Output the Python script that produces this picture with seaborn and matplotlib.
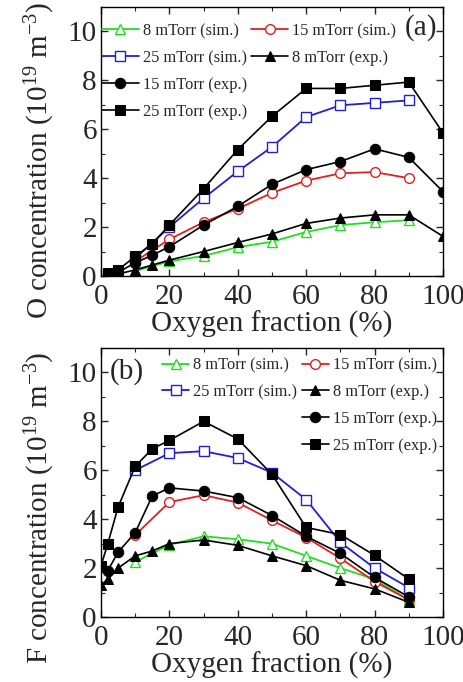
import numpy as np
import pandas as pd
import matplotlib
matplotlib.use("Agg")
import matplotlib.pyplot as plt
from matplotlib.lines import Line2D
from matplotlib.ticker import MultipleLocator
import seaborn as sns

sns.set_theme(style="ticks")
plt.rcParams['font.family'] = 'serif'
plt.rcParams['font.serif'] = ['Liberation Serif', 'DejaVu Serif']
plt.rcParams['mathtext.fontset'] = 'custom'
plt.rcParams['mathtext.rm'] = 'Liberation Serif'
plt.rcParams['mathtext.it'] = 'Liberation Serif:italic'

# ---------------- Panel (a): O concentration ----------------
a_sim_x = [10, 20, 30, 40, 50, 60, 70, 80, 90]
a_sim_8 = [0.2, 0.6, 0.82, 1.18, 1.4, 1.8, 2.08, 2.2, 2.28]
a_sim_15 = [0.6, 1.5, 2.2, 2.75, 3.4, 3.9, 4.2, 4.25, 4.0]
a_sim_25 = [0.72, 2.0, 3.18, 4.28, 5.28, 6.5, 6.98, 7.08, 7.18]

a_exp_x = [2, 5, 10, 15, 20, 30, 40, 50, 60, 70, 80, 90, 100]
a_exp_8 = [0.05, 0.08, 0.25, 0.45, 0.65, 1.0, 1.37, 1.72, 2.15, 2.37, 2.5, 2.5, 1.62]
a_exp_15 = [0.08, 0.15, 0.54, 0.85, 1.2, 2.08, 2.85, 3.75, 4.35, 4.68, 5.2, 4.85, 3.45]
a_exp_25 = [0.12, 0.25, 0.8, 1.32, 2.08, 3.57, 5.17, 6.53, 7.67, 7.67, 7.8, 7.93, 5.85]

# ---------------- Panel (b): F concentration ----------------
b_sim_x = [10, 20, 30, 40, 50, 60, 70, 80, 90]
b_sim_8 = [2.25, 2.95, 3.3, 3.18, 3.0, 2.5, 2.0, 1.55, 0.7]
b_sim_15 = [3.35, 4.7, 4.98, 4.68, 3.95, 3.25, 2.4, 1.45, 0.7]
b_sim_25 = [6.0, 6.7, 6.78, 6.5, 5.9, 4.8, 3.05, 2.0, 1.2]

b_exp_x = [0, 2, 5, 10, 15, 20, 30, 40, 50, 60, 70, 80, 90]
b_exp_8 = [1.3, 1.55, 2.0, 2.5, 2.7, 3.0, 3.15, 2.93, 2.5, 2.1, 1.5, 1.15, 0.6]
b_exp_15 = [2.05, 1.9, 2.65, 3.45, 4.95, 5.28, 5.15, 4.88, 4.15, 3.3, 2.6, 1.62, 0.82]
b_exp_25 = [2.1, 3.0, 4.5, 6.16, 6.88, 7.22, 8.0, 7.28, 5.83, 3.66, 3.37, 2.52, 1.55]

labels = ["8 mTorr (sim.)", "15 mTorr (sim.)", "25 mTorr (sim.)",
          "8 mTorr (exp.)", "15 mTorr (exp.)", "25 mTorr (exp.)"]
x_ticks = [0, 20, 40, 60, 80, 100]
y_ticks = [0, 2, 4, 6, 8, 10]

sim_colors = ["#22dd22", "#e02020", "#2020d0"]
sim_markers = ["^", "o", "s"]
exp_markers = ["^", "o", "s"]

fig = plt.figure(figsize=(4.64, 6.82), dpi=100)
ax_a = fig.add_axes([101/464, 1-276/682, 342/464, 269/682])
ax_b = fig.add_axes([101/464, 1-617/682, 342/464, 269/682])


def draw(ax, sx, sims, ex, exps):
    handles = []
    for i, (ys, lab) in enumerate(zip(sims, labels[:3])):
        df = pd.DataFrame({"x": sx, "y": ys})
        sns.lineplot(data=df, x="x", y="y", ax=ax, color=sim_colors[i],
                     marker=sim_markers[i], markersize=7, markerfacecolor="white",
                     markeredgecolor=sim_colors[i], markeredgewidth=1.0,
                     linewidth=1.3, label=lab, legend=False)
        handles.append(ax.lines[-1])
    for i, (ys, lab) in enumerate(zip(exps, labels[3:])):
        df = pd.DataFrame({"x": ex, "y": ys})
        sns.lineplot(data=df, x="x", y="y", ax=ax, color="black",
                     marker=exp_markers[i], markersize=7.5, markerfacecolor="black",
                     markeredgecolor="black", linewidth=1.2, label=lab,
                     legend=False)
        handles.append(ax.lines[-1])
    ax.set_xlim(0, 100)
    ax.set_ylim(0, 11)
    ax.set_xticks(x_ticks)
    ax.set_yticks(y_ticks)
    ax.xaxis.set_minor_locator(MultipleLocator(10))
    ax.yaxis.set_minor_locator(MultipleLocator(1))
    ax.tick_params(which="both", direction="in", top=True, right=True,
                   labelsize=21)
    ax.tick_params(axis="x", pad=6)
    ax.tick_params(axis="y", pad=3)
    ax.tick_params(which="major", length=5, width=1)
    ax.tick_params(which="minor", length=3, width=0.8)
    for s in ax.spines.values():
        s.set_linewidth(1.0)
        s.set_color("black")
    ax.set_xlabel("Oxygen fraction (%)", fontsize=21, labelpad=0)
    return handles


blank = Line2D([], [], linestyle="none", marker=None)
leg_kw = dict(ncol=2, frameon=False, fontsize=11.8,
              handletextpad=0.25, columnspacing=0.25, labelspacing=0.66,
              borderaxespad=0.0, borderpad=0.0)

h = draw(ax_a, a_sim_x, [a_sim_8, a_sim_15, a_sim_25],
         a_exp_x, [a_exp_8, a_exp_15, a_exp_25])
ax_a.set_ylabel("O concentration (10$^{19}$ m$^{-3}$)", fontsize=21)
ax_a.yaxis.set_label_coords(-0.13, 0.43)
ax_a.legend([h[0], h[2], h[4], h[5], h[1], h[3], blank, blank],
            [labels[0], labels[2], labels[4], labels[5], labels[1], labels[3], "", ""],
            loc="upper left", bbox_to_anchor=(0.003, 0.94), handlelength=2.25,
            **leg_kw)
ax_a.text(0.982, 0.922, "(a)", transform=ax_a.transAxes, ha="right", va="center",
          fontsize=21)

h = draw(ax_b, b_sim_x, [b_sim_8, b_sim_15, b_sim_25],
         b_exp_x, [b_exp_8, b_exp_15, b_exp_25])
ax_b.set_ylabel("F concentration (10$^{19}$ m$^{-3}$)", fontsize=21)
ax_b.yaxis.set_label_coords(-0.13, 0.405)
ax_b.legend([h[0], h[2], blank, blank, h[1], h[3], h[4], h[5]],
            [labels[0], labels[2], "", "", labels[1], labels[3], labels[4], labels[5]],
            loc="upper right", bbox_to_anchor=(0.982, 0.965), handlelength=1.65,
            **leg_kw)
ax_b.text(0.026, 0.911, "(b)", transform=ax_b.transAxes, ha="left", va="center",
          fontsize=21)

fig.savefig("out.png", dpi=100)
